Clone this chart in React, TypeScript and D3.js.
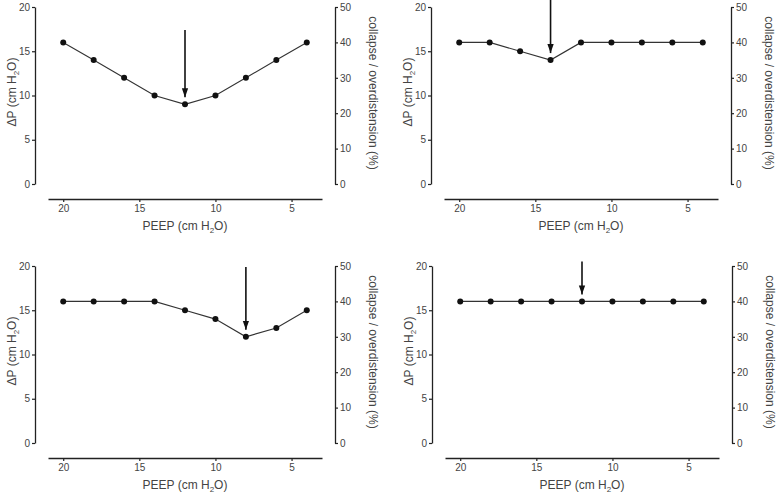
import React, { useEffect, useRef } from 'react';
import * as d3 from 'd3';

// PEEP steps (cm H2O), decreasing trial
const peep = [20, 18, 16, 14, 12, 10, 8, 6, 4];

// driving pressure per panel
const dpA = [16, 14, 12, 10, 9, 10, 12, 14, 16];
const dpB = [16, 16, 15, 14, 16, 16, 16, 16, 16];
const dpC = [16, 16, 16, 16, 15, 14, 12, 13, 15];
const dpD = [16, 16, 16, 16, 16, 16, 16, 16, 16];

// arrow: PEEP it points at, and its top (in ΔP units)
const arrowPeep = [12, 14, 8, 12];
const arrowTop = [17.4, 20.8, 19.9, 20.5];

const leftTicks = [0, 5, 10, 15, 20];
const rightTicks = [0, 10, 20, 30, 40, 50];
const xTicks = [20, 15, 10, 5];

const panels = [
  { dx: 0, dy: 0, values: dpA },
  { dx: 396, dy: 0, values: dpB },
  { dx: 0, dy: 259, values: dpC },
  { dx: 397, dy: 259, values: dpD },
];

const FONT = '"Liberation Sans", Arial, sans-serif';
const TEXT = '#444';
const INK = '#222';

function App() {
  const ref = useRef<SVGSVGElement>(null);

  useEffect(() => {
    if (!ref.current) return;
    const svg = d3.select(ref.current);
    svg.selectAll('*').remove();

    const x = d3.scaleLinear().domain([21, 3]).range([48, 322]);
    const y = d3.scaleLinear().domain([0, 20]).range([184, 7]);
    const y2 = d3.scaleLinear().domain([0, 50]).range([184, 7]);

    const defs = svg.append('defs');
    defs.append('marker')
      .attr('id', 'head')
      .attr('viewBox', '0 0 10 10')
      .attr('refX', 10).attr('refY', 5)
      .attr('markerWidth', 9).attr('markerHeight', 9)
      .attr('markerUnits', 'userSpaceOnUse')
      .attr('orient', 'auto')
      .append('path')
      .attr('d', 'M0,1.5 L10,5 L0,8.5 Z')
      .attr('fill', '#111');

    panels.forEach((p, pi) => {
      const g = svg.append('g').attr('transform', `translate(${p.dx},${p.dy})`);

      // left axis
      const la = g.append('g').attr('transform', 'translate(35,0)')
        .call(d3.axisLeft(y).tickValues(leftTicks).tickSize(3).tickPadding(2).tickSizeOuter(0));
      // right axis
      const ra = g.append('g').attr('transform', 'translate(335,0)')
        .call(d3.axisRight(y2).tickValues(rightTicks).tickSize(3).tickPadding(2).tickSizeOuter(0));
      // x axis
      const xa = g.append('g').attr('transform', 'translate(0,199)')
        .call(d3.axisBottom(x).tickValues(xTicks).tickSize(3).tickPadding(3).tickSizeOuter(0));

      [la, ra, xa].forEach(a => {
        a.select('.domain').attr('stroke', INK).attr('stroke-width', 1.3);
        a.selectAll('.tick line').attr('stroke', INK).attr('stroke-width', 1.2);
        a.selectAll('.tick text').attr('fill', TEXT).attr('font-size', 10).attr('font-family', FONT);
      });

      // left label
      const lt = g.append('text')
        .attr('transform', 'translate(16,92) rotate(-90)')
        .attr('text-anchor', 'middle')
        .attr('font-family', FONT).attr('font-size', 12).attr('fill', TEXT);
      lt.append('tspan').text('ΔP (cm H');
      lt.append('tspan').attr('font-size', 8).attr('dy', 3).text('2');
      lt.append('tspan').attr('dy', -3).text('O)');

      // right label
      g.append('text')
        .attr('transform', 'translate(369,93) rotate(90)')
        .attr('text-anchor', 'middle')
        .attr('font-family', FONT).attr('font-size', 12).attr('fill', TEXT)
        .text('collapse / overdistension (%)');

      // x label
      const xt = g.append('text')
        .attr('x', 185).attr('y', 230)
        .attr('text-anchor', 'middle')
        .attr('font-family', FONT).attr('font-size', 12).attr('fill', TEXT);
      xt.append('tspan').text('PEEP (cm H');
      xt.append('tspan').attr('font-size', 8).attr('dy', 3).text('2');
      xt.append('tspan').attr('dy', -3).text('O)');

      const pts = peep.map((v, i) => [v, p.values[i]] as [number, number]);

      // line
      g.append('path')
        .datum(pts)
        .attr('fill', 'none')
        .attr('stroke', '#333')
        .attr('stroke-width', 1.1)
        .attr('d', d3.line<[number, number]>().x(d => x(d[0])).y(d => y(d[1])));

      // markers
      g.selectAll('circle.pt')
        .data(pts)
        .enter()
        .append('circle')
        .attr('cx', d => x(d[0]))
        .attr('cy', d => y(d[1]))
        .attr('r', 3)
        .attr('fill', '#111');

      // arrow
      const ap = arrowPeep[pi];
      const av = p.values[peep.indexOf(ap)];
      g.append('line')
        .attr('x1', x(ap)).attr('x2', x(ap))
        .attr('y1', y(arrowTop[pi])).attr('y2', y(av) - 7)
        .attr('stroke', '#111')
        .attr('stroke-width', 1.6)
        .attr('marker-end', 'url(#head)');
    });
  }, []);

  return (
    <svg
      ref={ref}
      width={778}
      height={495}
      style={{ position: 'absolute', left: 0, top: 0, background: '#fff' }}
    />
  );
}

export default App;
